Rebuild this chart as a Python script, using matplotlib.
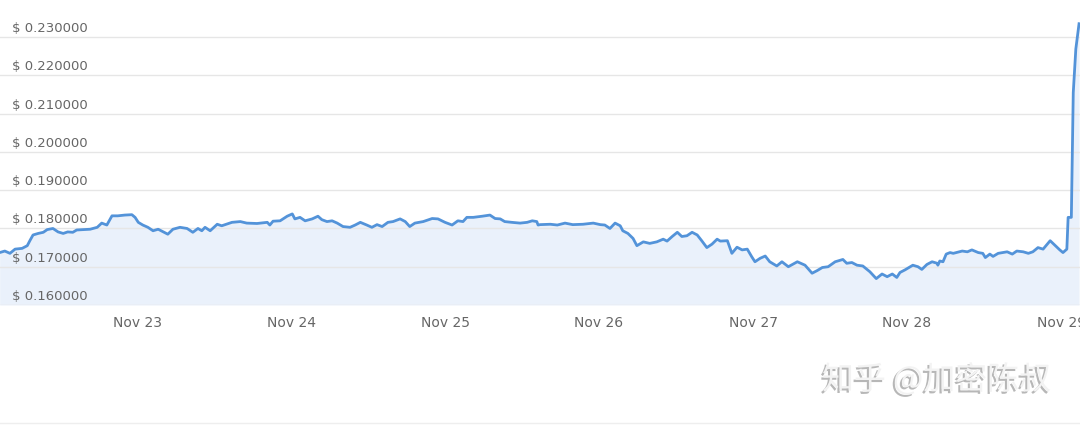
import matplotlib
matplotlib.use("Agg")
import matplotlib.pyplot as plt
import matplotlib.dates as mdates
import matplotlib.patheffects as pe
from matplotlib.transforms import blended_transform_factory, offset_copy
import pandas as pd

# ---- data ----
start = pd.Timestamp("2020-11-22 00:00")
hours = [2.6, 3.4, 4.2, 5.0, 6.1, 6.9, 7.3, 7.8, 8.6, 9.4, 10.0, 10.9, 11.7, 12.5, 13.2, 14.0,
         14.6, 15.6, 16.7, 17.8, 18.5, 19.3, 20.1, 21.0, 22.1, 23.2, 23.7, 24.2, 24.9, 25.7,
         26.5, 27.3, 28.0, 28.8, 29.6, 30.7, 31.8, 32.7, 33.5, 34.1, 34.6, 35.4, 36.5, 37.2,
         38.8, 40.1, 41.1, 42.7, 44.3, 44.7, 45.2, 46.3, 47.4, 48.2, 48.6, 49.4, 50.2, 51.3,
         52.2, 52.8, 53.6, 54.4, 55.2, 56.1, 57.2, 58.0, 58.8, 59.8, 60.6, 61.4, 62.2, 63.1,
         63.9, 65.0, 65.8, 66.5, 67.3, 68.6, 70.0, 70.9, 72.0, 73.1, 74.0, 74.8, 75.4, 76.4,
         77.8, 79.0, 79.8, 80.6, 81.3, 82.4, 83.7, 84.8, 85.6, 86.3, 86.5, 86.8, 88.4, 89.5,
         90.7, 91.9, 93.5, 95.1, 96.2, 96.9, 97.7, 98.5, 99.3, 99.7, 100.5, 101.3, 101.9,
         102.9, 103.9, 105.0, 106.0, 106.6, 107.4, 108.2, 108.9, 109.7, 110.5, 111.3, 112.0,
         112.8, 113.6, 114.4, 114.9, 116.0, 116.7, 117.5, 118.3, 119.1, 119.8, 120.3, 121.1,
         121.9, 122.6, 123.7, 124.5, 125.5, 126.9, 128.1, 129.2, 130.0, 130.8, 131.7, 132.8,
         134.0, 134.6, 135.4, 136.2, 137.1, 138.2, 139.2, 140.1, 140.9, 141.7, 142.4, 142.9,
         143.7, 144.9, 145.7, 146.3, 147.1, 147.9, 148.7, 148.8, 149.1, 149.6, 150.1, 150.7,
         151.2, 152.6, 153.4, 154.1, 155.1, 155.8, 156.2, 156.9, 157.4, 158.2, 159.6, 160.4,
         161.1, 162.1, 162.9, 163.6, 164.4, 165.2, 166.3, 167.1, 167.8, 168.3, 168.9, 169.1,
         169.6, 169.9, 170.3, 170.8]
prices = [0.1737, 0.1741, 0.1735, 0.1746, 0.1748, 0.1755, 0.1768, 0.1783, 0.1787, 0.1790,
          0.1797, 0.1800, 0.1791, 0.1787, 0.1791, 0.1790, 0.1796, 0.1797, 0.1798, 0.1803,
          0.1814, 0.1809, 0.1833, 0.1833, 0.1835, 0.1836, 0.1829, 0.1816, 0.1809, 0.1803,
          0.1794, 0.1798, 0.1792, 0.1785, 0.1798, 0.1803, 0.1800, 0.1790, 0.1800, 0.1794,
          0.1803, 0.1794, 0.1811, 0.1807, 0.1816, 0.1818, 0.1814, 0.1813, 0.1816, 0.1809,
          0.1819, 0.1820, 0.1832, 0.1838, 0.1825, 0.1829, 0.1820, 0.1825, 0.1832, 0.1823,
          0.1818, 0.1820, 0.1814, 0.1805, 0.1803, 0.1809, 0.1816, 0.1809, 0.1803, 0.1810,
          0.1805, 0.1816, 0.1818, 0.1825, 0.1818, 0.1805, 0.1814, 0.1818, 0.1826, 0.1825,
          0.1816, 0.1809, 0.1820, 0.1818, 0.1829, 0.1829, 0.1832, 0.1835, 0.1826, 0.1825,
          0.1818, 0.1816, 0.1814, 0.1816, 0.1820, 0.1818, 0.1809, 0.1810, 0.1811, 0.1809,
          0.1814, 0.1810, 0.1811, 0.1814, 0.1810, 0.1809, 0.1800, 0.1814, 0.1807, 0.1794,
          0.1787, 0.1774, 0.1755, 0.1765, 0.1761, 0.1765, 0.1772, 0.1767, 0.1779, 0.1790,
          0.1779, 0.1781, 0.1790, 0.1783, 0.1768, 0.1750, 0.1759, 0.1772, 0.1767, 0.1768,
          0.1735, 0.1751, 0.1744, 0.1746, 0.1726, 0.1713, 0.1722, 0.1728, 0.1713, 0.1702,
          0.1713, 0.1700, 0.1713, 0.1704, 0.1683, 0.1690, 0.1698, 0.1700, 0.1713, 0.1719,
          0.1709, 0.1711, 0.1704, 0.1702, 0.1687, 0.1669, 0.1681, 0.1674, 0.1681, 0.1672,
          0.1685, 0.1692, 0.1704, 0.1700, 0.1693, 0.1706, 0.1713, 0.1709, 0.1704, 0.1715,
          0.1713, 0.1733, 0.1737, 0.1735, 0.1741, 0.1739, 0.1744, 0.1737, 0.1735, 0.1724,
          0.1733, 0.1727, 0.1735, 0.1739, 0.1733, 0.1741, 0.1739, 0.1735, 0.1739, 0.1750,
          0.1746, 0.1768, 0.1755, 0.1744, 0.1737, 0.1746, 0.1829, 0.1829, 0.2155, 0.2269,
          0.2335]
y_ticks = [0.16, 0.17, 0.18, 0.19, 0.20, 0.21, 0.22, 0.23]
x_tick_days = ["2020-11-23", "2020-11-24", "2020-11-25", "2020-11-26",
               "2020-11-27", "2020-11-28", "2020-11-29"]
watermark = "知乎 @加密陈叔"

times = [start + pd.Timedelta(hours=h) for h in hours]

# ---- figure ----
fig = plt.figure(figsize=(10.8, 4.25), dpi=100)
ax = fig.add_axes([0.0, 1 - 305 / 425, 1.0, 305 / 425])

line_color = "#5393d9"
ax.fill_between(times, prices, 0.16, color="#eaf1fb", zorder=1, linewidth=0)
ax.plot(times, prices, color=line_color, linewidth=2.0, zorder=3,
        solid_joinstyle="round")

ax.set_ylim(0.16, 0.2397)
ax.set_xlim(start + pd.Timedelta(hours=2.65), start + pd.Timedelta(hours=170.95))

for yv in y_ticks:
    ax.axhline(yv, color="#e6e6e6", linewidth=1.0, zorder=2)

trans = blended_transform_factory(ax.transAxes, ax.transData)
trans = offset_copy(trans, fig=fig, x=0, y=2, units="dots")
for yv in y_ticks:
    ax.text(12 / 1080, yv, f"$ {yv:.6f}", transform=trans, ha="left", va="bottom",
            fontsize=9.5, color="#666666", zorder=4)

ax.set_yticks([])
ax.set_xticks([pd.Timestamp(d) for d in x_tick_days])
ax.xaxis.set_major_formatter(mdates.DateFormatter("%b %d"))
ax.tick_params(axis="x", length=0, pad=8, labelsize=10, labelcolor="#666666")
for s in ax.spines.values():
    s.set_visible(False)

# watermark
fig.text(822 / 1080, 1 - 380 / 425, watermark, fontsize=23, color="#f3f3f3",
         family=["Noto Sans CJK SC", "DejaVu Sans"], ha="left", va="center",
         path_effects=[pe.withSimplePatchShadow(offset=(-1.5, -1.5),
                                                shadow_rgbFace="#888888", alpha=0.6)])
fig.add_artist(plt.Line2D([0, 1], [1 - 423 / 425] * 2, color="#eeeeee",
                          linewidth=1, transform=fig.transFigure))

fig.savefig("out.png", dpi=100)
